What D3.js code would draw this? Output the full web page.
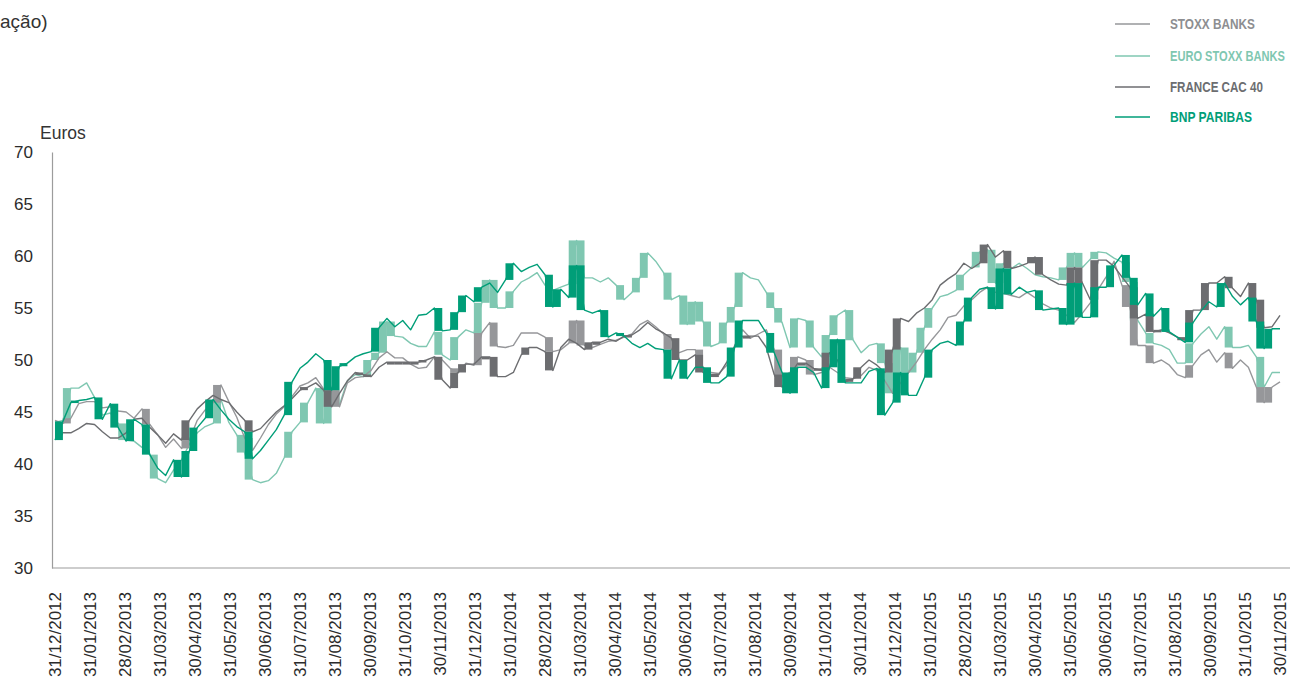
<!DOCTYPE html>
<html><head><meta charset="utf-8">
<script src="https://cdnjs.cloudflare.com/ajax/libs/d3/7.8.5/d3.min.js"></script>
<style>body{margin:0;background:#fff}svg{display:block}</style>
</head><body><svg id="c" width="1298" height="686"></svg>
<script>
const monthLabels = ["31/12/2012","31/01/2013","28/02/2013","31/03/2013","30/04/2013","31/05/2013","30/06/2013","31/07/2013","31/08/2013","30/09/2013","31/10/2013","30/11/2013","31/12/2013","31/01/2014","28/02/2014","31/03/2014","30/04/2014","31/05/2014","30/06/2014","31/07/2014","31/08/2014","30/09/2014","31/10/2014","30/11/2014","31/12/2014","31/01/2015","28/02/2015","31/03/2015","30/04/2015","31/05/2015","30/06/2015","31/07/2015","31/08/2015","30/09/2015","31/10/2015","30/11/2015"];
const yTicks = [30,35,40,45,50,55,60,65,70];

const bnpValues = [42.3,44.1,45.9,46.1,46.2,46.4,44.3,45.8,43.5,42.2,
44.3,43.8,40.9,39.6,38.9,40.4,38.75,41.25,43.5,44.4,
46.2,45.2,44.3,43.6,43.1,40.5,41.3,42.3,43.3,44.7,
47.9,49.2,49.8,50.6,50.0,47.1,49.4,49.7,50.3,50.6,
50.8,53.1,54.0,53.2,53.8,52.9,54.3,54.4,55.0,52.8,
52.9,54.6,56.2,55.6,57.0,57.4,56.5,57.7,59.3,58.5,
58.9,59.2,58.2,55.1,56.8,56.0,59.1,54.8,54.5,54.8,
52.2,52.6,52.3,51.6,51.2,51.6,51.1,51.0,48.2,50.0,
48.2,49.3,49.3,47.8,47.8,48.4,51.2,53.8,53.8,53.8,
52.6,50.7,48.8,46.8,49.3,49.3,48.8,47.3,49.3,52.0,
47.8,47.8,47.8,48.9,49.2,44.7,45.9,48.8,46.6,46.6,
48.3,51.0,51.6,51.8,51.4,53.7,56.0,56.8,57.0,54.9,
58.8,56.3,57.0,56.5,56.7,54.8,54.9,55.0,53.4,57.4,
54.1,54.1,57.0,57.0,59.1,60.1,57.9,55.3,56.4,54.2,
55.0,52.7,52.2,51.7,53.6,54.7,55.6,55.1,57.4,56.1,
55.3,56.0,53.7,51.1,53.0,53.0];
const bnpBars = [1,3,6,8,10,12,16,17,18,20,25,30,35,36,37,41,49,51,52,54,58,63,64,66,67,70,72,78,80,83,86,87,91,93,94,98,99,100,105,107,108,111,115,116,119,120,121,125,128,129,130,132,134,136,137,139,141,144,148,152,153,154];

const euroValues = [44.0,44.2,47.3,47.3,47.8,46.4,44.7,44.9,43.9,42.3,
42.2,41.6,40.9,38.6,38.2,39.4,40.4,41.9,43.0,43.6,
43.9,46.2,44.0,42.8,41.1,38.5,38.2,38.4,39.1,40.6,
43.1,44.0,45.9,47.3,43.9,47.1,45.7,48.0,48.6,48.4,
50.0,50.7,53.7,52.3,52.2,51.6,51.3,51.3,52.7,50.5,
50.0,52.2,52.9,52.6,55.5,57.7,55.0,55.0,56.6,57.5,
57.9,58.4,57.2,56.7,57.0,57.3,61.5,57.9,57.9,57.5,
57.9,57.2,55.8,56.5,57.9,60.3,59.5,58.4,55.8,56.2,
53.4,55.6,53.7,51.3,51.6,53.6,55.1,58.4,57.9,57.7,
56.5,55.0,53.6,51.2,54.0,53.8,51.2,50.3,52.4,54.3,
54.8,51.9,50.7,51.4,51.6,49.7,46.8,51.2,48.8,50.7,
53.1,55.0,56.1,56.3,56.7,58.2,58.9,60.4,60.6,57.4,
59.3,58.8,59.3,58.8,58.2,58.0,57.9,57.7,58.9,60.3,
58.9,59.7,60.4,60.3,59.8,59.4,57.5,53.8,52.6,51.6,
51.4,51.0,49.7,49.7,51.6,52.5,53.2,52.0,53.2,51.2,
51.2,51.4,50.3,47.4,48.8,48.8];
const euroBars = [2,9,13,21,24,25,30,32,34,35,36,40,41,42,43,49,51,54,55,56,58,63,66,67,72,74,75,78,80,81,82,83,85,86,87,91,92,94,96,98,99,101,105,106,107,108,109,110,111,115,117,119,120,128,129,130,132,136,137,139,144,149,153];

const stoxxValues = [44.2,43.9,44.4,45.8,46.0,46.0,45.4,45.5,45.1,45.0,
44.4,45.3,43.8,42.8,41.6,42.4,41.5,42.3,44.2,45.2,
45.9,47.6,46.0,44.5,42.5,41.3,42.5,43.8,44.8,45.5,
46.5,47.5,47.8,48.3,47.2,47.1,45.5,47.8,48.3,48.4,
49.0,50.2,50.8,50.2,50.2,49.6,49.2,49.3,50.3,50.0,
49.2,48.8,49.7,49.5,52.6,53.6,51.3,51.2,51.4,52.6,
52.6,52.6,52.2,50.8,51.0,51.6,53.8,51.4,51.2,51.5,
51.8,51.9,52.2,52.5,53.4,53.8,53.2,52.5,51.0,50.7,
51.0,51.0,49.3,48.8,48.7,49.5,51.4,52.9,52.1,52.5,
52.9,51.0,48.4,48.8,50.3,50.0,48.6,48.8,49.3,48.8,
48.3,48.2,48.5,49.3,49.0,48.0,46.8,47.8,48.8,49.8,
51.0,52.0,52.9,54.1,54.3,55.2,55.8,56.5,57.0,56.5,
56.4,56.2,56.0,56.5,56.0,55.4,55.0,54.8,54.3,53.6,
54.5,55.5,56.8,58.0,59.5,57.2,55.1,51.4,51.4,49.7,
50.0,49.5,48.6,48.3,49.5,50.5,51.0,49.8,50.7,49.2,
50.0,49.3,47.4,45.9,47.4,47.9];
const stoxxBars = [2,12,17,21,25,36,49,51,54,56,63,66,67,78,82,92,94,96,136,137,139,144,149,153,154];

const cacValues = [43.0,43.0,43.0,43.4,43.9,43.8,43.1,42.5,42.5,43.0,
44.3,44.4,43.5,42.8,42.0,42.9,42.3,44.2,45.3,46.0,
46.6,46.2,45.9,45.0,44.2,43.1,43.4,44.2,45.0,45.6,
46.3,47.1,47.4,47.8,47.1,45.5,46.8,48.0,48.8,48.6,
48.4,49.3,49.8,49.8,49.8,49.8,49.8,50.0,50.3,48.1,
47.3,48.8,49.6,49.6,50.3,50.3,48.4,48.4,48.8,50.5,
51.2,51.2,50.8,49.0,51.2,52.0,51.6,51.0,51.7,51.7,
52.0,51.8,52.3,52.4,52.9,53.6,53.0,52.6,52.1,50.0,
50.0,50.5,48.8,48.6,48.6,49.8,51.3,52.3,52.3,52.3,
51.2,48.6,47.4,48.6,49.7,49.7,49.2,49.0,50.7,50.0,
47.9,48.2,49.3,50.0,49.5,48.8,51.0,54.0,53.7,54.5,
55.0,55.8,57.2,57.8,58.3,59.3,58.8,59.3,61.1,59.9,
60.5,58.8,59.0,59.3,59.9,58.2,57.7,57.3,57.2,58.9,
57.4,55.8,59.6,59.6,59.0,58.0,57.0,54.0,54.4,52.7,
52.9,52.6,52.2,51.9,54.8,54.8,57.4,57.4,58.0,56.9,
56.1,57.4,55.8,53.1,53.2,54.3];
const cacBars = [1,17,25,32,35,39,40,43,44,45,46,47,49,51,52,55,56,60,63,68,69,73,79,82,84,88,92,95,97,98,101,102,106,107,118,121,124,125,129,130,132,137,139,140,143,144,146,149,152,153];

const seriesNames = ["STOXX BANKS","EURO STOXX BANKS","FRANCE CAC 40","BNP PARIBAS"];

(function(){
const colors = {stoxx:"#96979a", euro:"#7fc7b1", cac:"#6c6d70", bnp:"#009e78"};
const series = [
  {key:"euro", values:euroValues, bars:euroBars},
  {key:"stoxx", values:stoxxValues, bars:stoxxBars},
  {key:"cac", values:cacValues, bars:cacBars},
  {key:"bnp", values:bnpValues, bars:bnpBars}
];

const svg = d3.select("#c");
const pLeft = 52, pRight = 1290, pTop = 152, pBottom = 568;
const y = d3.scaleLinear().domain([30,70]).range([pBottom, pTop]);
const xw = d3.scaleLinear().domain([0, bnpValues.length-1]).range([55, 1280]);
const xm = d3.scalePoint().domain(monthLabels).range([55, 1280]);
const font = "Liberation Sans, Arial, sans-serif";

svg.append("text").attr("x",0).attr("y",28).attr("font-family",font)
  .attr("font-size",19).attr("fill","#333").text("ação)");
svg.append("text").attr("x",40).attr("y",139).attr("font-family",font)
  .attr("font-size",17.5).attr("fill","#333").text("Euros");

const yAxis = d3.axisLeft(y).tickValues(yTicks).tickSize(0).tickPadding(19);
const gy = svg.append("g").attr("transform",`translate(${pLeft},0)`).call(yAxis);
gy.select(".domain").attr("stroke","#9c9c9c").attr("stroke-width",1.2);
gy.selectAll("text").attr("font-family",font).attr("font-size",17).attr("fill","#2b2b2b");

const xAxis = d3.axisBottom(xm).tickSize(0).tickPadding(0);
const gx = svg.append("g").attr("transform",`translate(0,${pBottom})`).call(xAxis);
gx.select(".domain").remove();
svg.append("line").attr("x1",pLeft).attr("x2",pRight).attr("y1",pBottom).attr("y2",pBottom).attr("stroke","#9c9c9c").attr("stroke-width",1.2);
gx.selectAll("text").attr("font-family",font).attr("font-size",17).attr("fill","#2b2b2b")
  .attr("text-anchor","end").attr("dy","0.35em")
  .attr("transform", "translate(0,24) rotate(-90)").attr("x",0).attr("y",0);

const line = d3.line().x((d,i)=>xw(i)).y(d=>y(d));
const plot = svg.append("g");
series.forEach(s => {
  const g = plot.append("g");
  g.append("path").attr("d", line(s.values)).attr("fill","none")
    .attr("stroke", colors[s.key]).attr("stroke-width",1.4).attr("stroke-linejoin","round");
  g.selectAll("rect").data(s.bars).join("rect")
    .attr("x", i => xw(i-1))
    .attr("width", i => xw(i) - xw(i-1))
    .attr("y", i => y(Math.max(s.values[i-1], s.values[i])))
    .attr("height", i => Math.max(2.5, Math.abs(y(s.values[i-1]) - y(s.values[i]))))
    .attr("fill", colors[s.key]);
});

const legKeys = ["stoxx","euro","cac","bnp"];
const legY = [24,56,87,117];
const legW = [85,115,93,82];
const leg = svg.append("g");
seriesNames.forEach((n,k) => {
  leg.append("line").attr("x1",1115).attr("x2",1150).attr("y1",legY[k]).attr("y2",legY[k])
    .attr("stroke",colors[legKeys[k]]).attr("stroke-width",1.4);
  const g = leg.append("g").attr("transform",`translate(1170,${legY[k]})`);
  const t = g.append("text").attr("x",0).attr("y",0).attr("dy","0.36em")
    .attr("font-family",font)
    .attr("font-weight","bold").attr("font-size",14.5)
    .attr("fill", k===0 ? "#8d8e91" : colors[legKeys[k]]).text(n);
  const w = t.node().getComputedTextLength();
  g.attr("transform",`translate(1170,${legY[k]}) scale(${legW[k]/w},1)`);
});
})();
</script></body></html>
